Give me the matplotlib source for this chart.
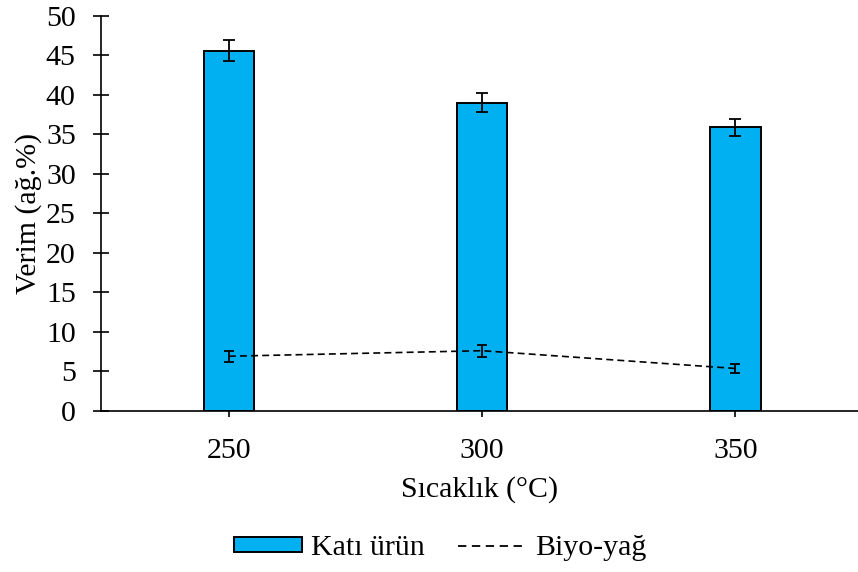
import matplotlib
matplotlib.use("Agg")
from matplotlib import pyplot as plt
from matplotlib.lines import Line2D
from matplotlib.patches import Patch

plt.rcParams['font.family'] = ['Liberation Serif', 'DejaVu Serif']
plt.rcParams['lines.scale_dashes'] = False

# Sıcaklık değerleri ve verimler
sicaklik = [250, 300, 350]
kati_urun = [45.6, 39.0, 35.9]
kati_hata = [1.35, 1.2, 1.05]
biyo_yag = [6.9, 7.6, 5.35]
biyo_hata = [0.7, 0.78, 0.58]
y_ticks = list(range(0, 55, 5))

fs = 21.5

fig = plt.figure(figsize=(8.58, 5.72), dpi=100)
ax = fig.add_axes([0.1174, 0.282, 0.8826, 0.690])

ax.bar(sicaklik, kati_urun, width=10, color='#00B0F0', edgecolor='black',
       linewidth=1.4, zorder=2)
ax.errorbar(sicaklik, kati_urun, yerr=kati_hata, fmt='none', ecolor='black',
            elinewidth=1.3, capsize=4, capthick=1.3, zorder=3)
ax.errorbar(sicaklik, biyo_yag, yerr=biyo_hata, color='black', linewidth=1.2,
            dashes=(5, 3), elinewidth=1.3, capsize=3.5, capthick=1.3, zorder=4)

ax.set_xlim(224.7, 374.2)
ax.set_ylim(0, 50)
ax.set_xticks(sicaklik)
ax.set_yticks(y_ticks)

for s in ['top', 'right']:
    ax.spines[s].set_visible(False)
for s in ['left', 'bottom']:
    ax.spines[s].set_linewidth(1.2)

ax.tick_params(axis='y', direction='inout', length=12, width=1.2, labelsize=fs, pad=12)
ax.tick_params(axis='x', direction='inout', length=9, width=1.2, labelsize=fs, pad=15)

ax.set_xlabel('Sıcaklık (°C)', fontsize=fs, labelpad=9)
ax.set_ylabel('Verim (ağ.%)', fontsize=fs, labelpad=3)

handles = [Patch(facecolor='#00B0F0', edgecolor='black', linewidth=1.4),
           Line2D([], [], color='black', linewidth=1.3, dashes=(6, 4))]
labels = ['Katı ürün', 'Biyo-yağ']
fig.legend(handles, labels, loc='center', bbox_to_anchor=(0.513, 0.042), ncol=2,
           frameon=False, fontsize=fs, handlelength=2.3, handleheight=0.4,
           handletextpad=0.3, columnspacing=1.1)

fig.savefig('out.png', dpi=100)
